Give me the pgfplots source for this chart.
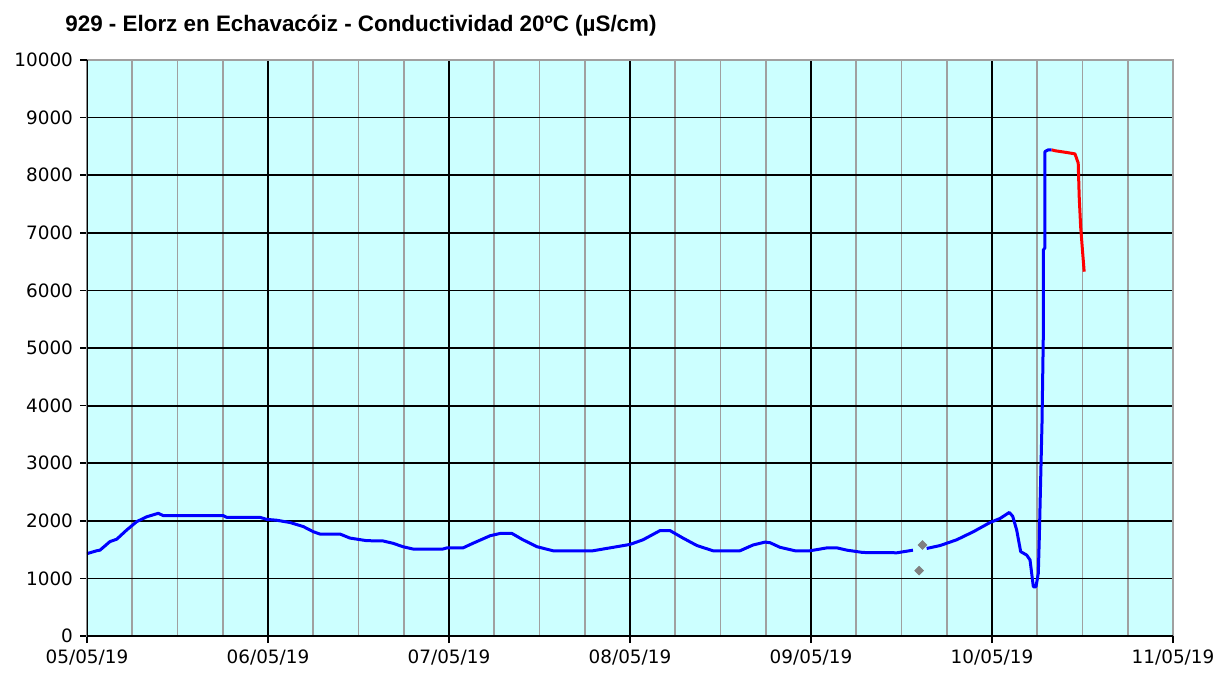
\documentclass[border=0pt]{standalone}
\usepackage{pgfplots}
\pgfplotsset{compat=1.18}
\usepackage{fontspec}
\setmainfont{DejaVu Sans}
\newfontfamily\titlefont{Liberation Sans}
\definecolor{bg}{HTML}{CCFFFF}
\definecolor{mgray}{HTML}{A0A0A0}
\definecolor{dgray}{HTML}{808080}
\definecolor{lblue}{HTML}{0000FF}
\definecolor{lred}{HTML}{FF0000}
\begin{document}
\begin{tikzpicture}
\useasboundingbox (-43.5pt,-19.5pt) rectangle (566pt,318pt);
\begin{axis}[
 at={(0,0)}, anchor=south west, scale only axis, width=543pt, height=288pt,
 xmin=0,xmax=144,ymin=0,ymax=10000,
 axis background/.style={fill=bg},
 xtick={0,24,...,120},
 xticklabels={05/05/19,06/05/19,07/05/19,08/05/19,09/05/19,10/05/19},
 extra x ticks={144}, extra x tick labels={11/05/19}, extra x tick style={grid=none},
 minor xtick={6,12,18,30,36,42,54,60,66,78,84,90,102,108,114,126,132,138},
 ytick={0,1000,...,9000}, extra y ticks={10000}, extra y tick style={grid=none},
 scaled y ticks=false,
 grid=both,
 major grid style={black, line width=0.9pt},
 minor grid style={mgray, line width=0.9pt},
 minor tick length=0pt,
 tick align=outside, major tick length=3.5pt,
 tick pos=left,
 tick style={black, line width=0.8pt},
 axis line style={mgray, line width=0.9pt},
 ticklabel style={font=\fontsize{9.2}{11}\selectfont},
 /pgf/number format/assume math mode=true,
 /pgf/number format/1000 sep={},
 /pgf/number format/fixed,
]
\addplot[lblue, line width=1.5pt, line join=round] coordinates {
(0,1430)(1.29,1480)(1.72,1490)(3.05,1640)(3.94,1680)(5.26,1840)(6.59,1985)
(7.92,2070)(9.45,2130)(10.12,2090)(18.07,2090)(18.52,2060)(22.94,2060)
(23.83,2025)(25.15,2010)(26.92,1970)(28.68,1900)(30.01,1810)(30.90,1770)
(33.55,1770)(34.87,1700)(37.09,1655)(39.25,1650)(40.57,1610)(41.90,1550)
(43.23,1510)(47.20,1510)(47.73,1530)(49.86,1530)(51.18,1610)(53.44,1740)
(54.76,1780)(56.35,1780)(57.81,1670)(59.67,1550)(61.79,1480)(67.09,1480)
(69.35,1530)(72.0,1590)(73.72,1670)(75.98,1830)(77.30,1830)(79.03,1700)
(80.88,1570)(83.0,1480)(86.59,1480)(88.31,1580)(89.90,1630)(90.56,1620)
(91.89,1540)(93.88,1480)(95.87,1480)(98.12,1530)(99.45,1530)(100.77,1490)
(102.89,1450)(107.40,1445)(109.52,1490)
};
\addplot[lblue, line width=1.5pt, line join=round] coordinates {
(111.34,1520)(113.10,1570)(115.31,1670)(117.52,1810)(119.73,1970)
(121.06,2040)(122.29,2145)(122.74,2080)(123.27,1840)(123.80,1465)
(124.60,1405)(125.04,1320)(125.48,855)(125.83,855)(126.14,1090)
(126.27,1700)(126.45,2710)(126.63,3700)(126.80,5200)(126.80,6700)
(127.02,6740)(127.02,8410)(127.46,8440)(127.91,8440)
};
\addplot[lred, line width=1.5pt, line join=round] coordinates {
(127.91,8440)(128.35,8425)(130.11,8390)(131.0,8370)(131.22,8290)
(131.43,8210)(131.56,7630)(131.75,7110)(132.01,6670)(132.22,6325)
};
\addplot[only marks, mark=square*, mark size=1.5pt, mark options={rotate=45}, dgray] coordinates {
(110.33,1135)(110.78,1580)};
\draw[black, line width=0.9pt] (rel axis cs:0,1) -- (rel axis cs:0,0) -- (rel axis cs:1,0);
\end{axis}
\node[anchor=base west, inner sep=0pt, font=\titlefont\bfseries\fontsize{11.2}{13}\selectfont] at (-11pt,302pt) {929 - Elorz en Echavacóiz - Conductividad 20ºC (µS/cm)};
\end{tikzpicture}
\end{document}
